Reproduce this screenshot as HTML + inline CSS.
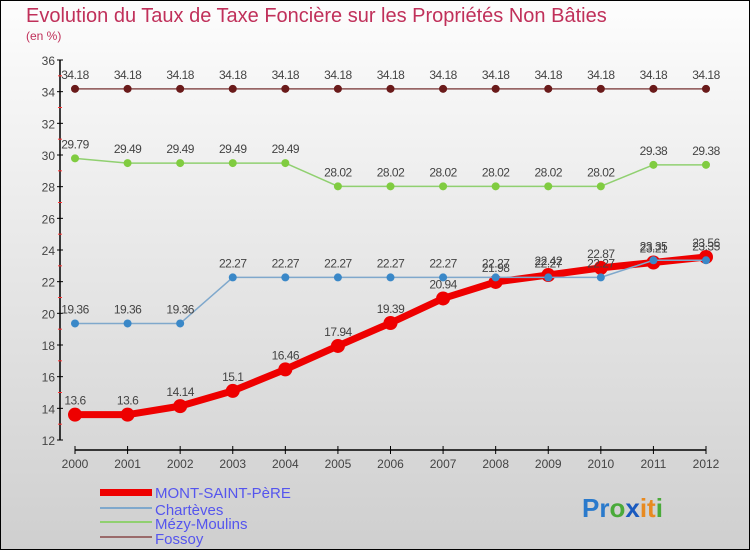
<!DOCTYPE html>
<html><head><meta charset="utf-8"><style>
body{margin:0}
svg{display:block;font-family:"Liberation Sans",sans-serif}
</style></head><body>
<svg id="c" width="750" height="550" viewBox="0 0 750 550">
<defs><linearGradient id="bg" x1="0" y1="0" x2="0" y2="1"><stop offset="0" stop-color="#fdfdfd"/><stop offset="1" stop-color="#cfcfcf"/></linearGradient></defs>
<rect x="0" y="0" width="750" height="550" fill="url(#bg)"/>
<rect x="0.5" y="0.5" width="749" height="549" fill="none" stroke="#000"/>
<text x="26" y="22" font-size="20" fill="#c0305a">Evolution du Taux de Taxe Foncière sur les Propriétés Non Bâties</text>
<text x="26" y="40" font-size="12" fill="#c0305a">(en %)</text>
<g id="axes"></g>
<g id="series"></g>
<g id="legend">
<rect x="100" y="489" width="52" height="7" fill="#e00"/>
<text x="155" y="498" font-size="15" fill="#5555ee">MONT-SAINT-PèRE</text>
<rect x="100" y="507" width="52" height="2" fill="#7fa8cc"/>
<text x="155" y="515" font-size="15" fill="#5555ee">Chartèves</text>
<rect x="100" y="521" width="52" height="2" fill="#90d070"/>
<text x="155" y="529" font-size="15" fill="#5555ee">Mézy-Moulins</text>
<rect x="100" y="536" width="52" height="2" fill="#9a6a6a"/>
<text x="155" y="544" font-size="15" fill="#5555ee">Fossoy</text>
</g>
<text x="582" y="517" font-size="26" font-weight="bold"><tspan fill="#2a7acc">Pr</tspan><tspan fill="#4aaa3a">o</tspan><tspan fill="#1a5abf">x</tspan><tspan fill="#e88a20">it</tspan><tspan fill="#4aaa3a">i</tspan></text>
</svg>
<script>
const years=[2000,2001,2002,2003,2004,2005,2006,2007,2008,2009,2010,2011,2012];
const montSaintPere=[13.6,13.6,14.14,15.1,16.46,17.94,19.39,20.94,21.98,22.42,22.87,23.21,23.56];
const charteves=[19.36,19.36,19.36,22.27,22.27,22.27,22.27,22.27,22.27,22.27,22.27,23.35,23.35];
const mezyMoulins=[29.79,29.49,29.49,29.49,29.49,28.02,28.02,28.02,28.02,28.02,28.02,29.38,29.38];
const fossoy=[34.18,34.18,34.18,34.18,34.18,34.18,34.18,34.18,34.18,34.18,34.18,34.18,34.18];
const yTicks=[12,14,16,18,20,22,24,26,28,30,32,34,36];
const NS="http://www.w3.org/2000/svg";
const x0=75,x1=706,yMin=12,yMax=36,py0=440,py1=60;
function xs(i){return x0+(x1-x0)*i/(years.length-1);}
function ys(v){return py0-(v-yMin)/(yMax-yMin)*(py0-py1);}
function mk(tag,attrs,parent){const e=document.createElementNS(NS,tag);for(const k in attrs)e.setAttribute(k,attrs[k]);parent.appendChild(e);return e;}
const axes=document.getElementById('axes');
let a=mk('line',{x1:60,y1:ys(yMax),x2:60,y2:py0,stroke:'#000','stroke-width':1.5},axes);


a=mk('line',{x1:x0,y1:450,x2:x1,y2:450,stroke:'#000','stroke-width':1.5},axes);


yTicks.forEach((t,i)=>{
  const y=ys(t);
  mk('line',{x1:57,y1:y,x2:63,y2:y,stroke:'#000'},axes);
  const tx=mk('text',{x:55,y:y+5,'font-size':12,fill:'#444','text-anchor':'end'},axes);
  tx.textContent=t;
  
  
  if(i<yTicks.length-1){mk('line',{x1:58,y1:ys(t+1),x2:62,y2:ys(t+1),stroke:'#f33'},axes);}
});
years.forEach((yr,i)=>{
  const x=xs(i);
  mk('line',{x1:x,y1:446,x2:x,y2:454,stroke:'#000'},axes);
  const tx=mk('text',{x:x,y:468,'font-size':12,fill:'#444','text-anchor':'middle'},axes);
  tx.textContent=yr;
  
  
});
const S=document.getElementById('series');
function draw(vals,name,col,dot,w,r){
  const g=mk('g',{},S);
  
  
  const pl=mk('polyline',{points:vals.map((v,i)=>xs(i)+','+ys(v)).join(' '),fill:'none',stroke:col,'stroke-width':w,'stroke-linejoin':'round'},g);
  
  
  vals.forEach((v,i)=>{
    const c=mk('circle',{cx:xs(i),cy:ys(v),r:r,fill:dot},g);
    
    
    const t=mk('text',{x:xs(i),y:ys(v)-10,'font-size':12,fill:'#444','text-anchor':'middle','letter-spacing':'-0.5'},g);
    t.textContent=v;
    
    
  });
}
draw(montSaintPere,'mont-saint-pere','#e00','#e00',7,7);
draw(fossoy,'fossoy','#8a5050','#6a1a1a',1.5,4);
draw(mezyMoulins,'mezy-moulins','#90d070','#80cc40',1.5,4);
draw(charteves,'charteves','#7fa8cc','#3a88c8',1.5,4);
</script>
</body></html>
